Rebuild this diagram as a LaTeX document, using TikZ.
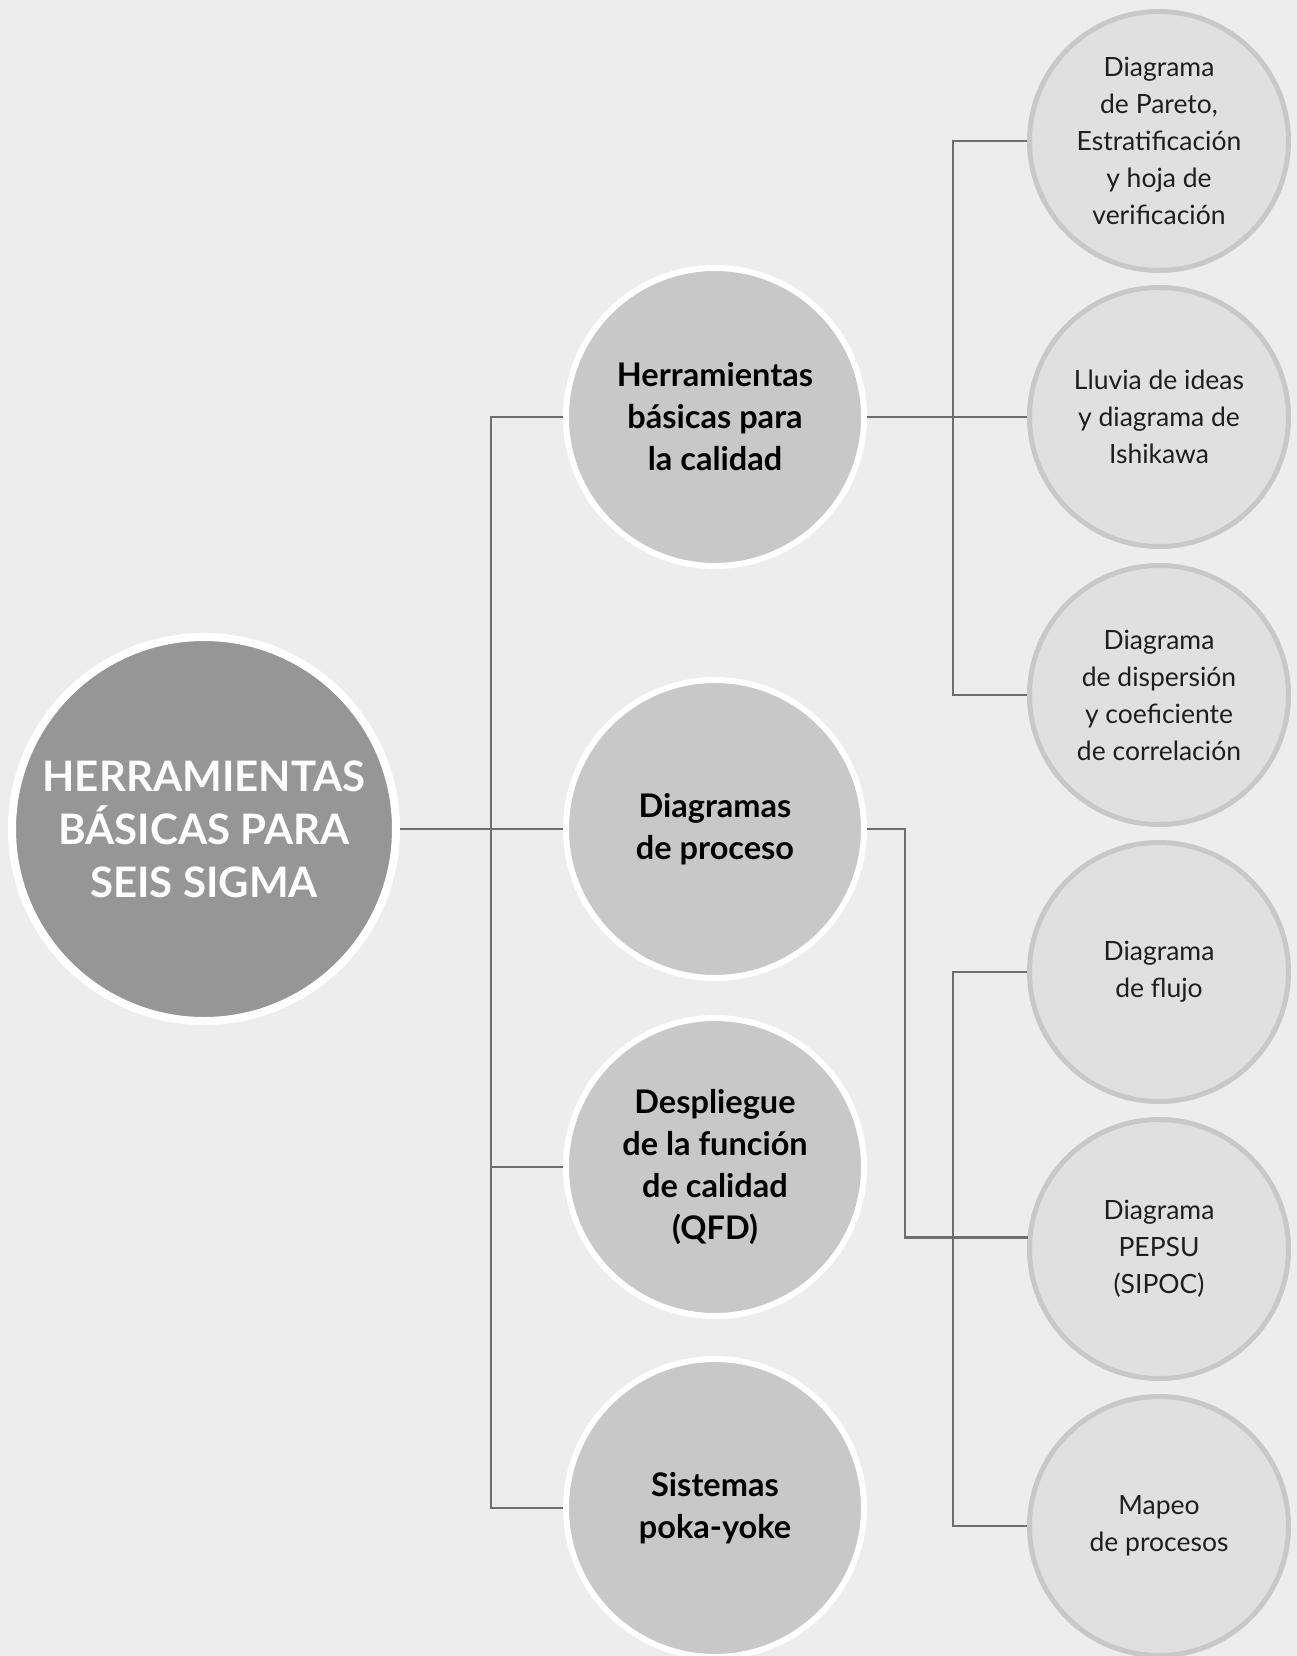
\documentclass[tikz,border=0pt]{standalone}
\usepackage{fontspec}
\setmainfont{Lato}
\definecolor{bgc}{HTML}{EDEDED}
\definecolor{mainc}{HTML}{969696}
\definecolor{midc}{HTML}{C8C8C8}
\definecolor{leafc}{HTML}{E0E0E0}
\definecolor{leafb}{HTML}{C8C8C8}
\definecolor{linec}{HTML}{6E6E6E}
\definecolor{txtc}{HTML}{1E1E1E}
\begin{document}
\begin{tikzpicture}[x=1pt,y=-1pt,
  rootbox/.style={circle,fill=mainc,draw=white,line width=8pt,minimum size=384pt,inner sep=0pt,align=center,text=white,font=\fontsize{42}{53}\selectfont\bfseries},
  midbox/.style={circle,fill=midc,draw=white,line width=6pt,minimum size=298pt,inner sep=0pt,align=center,text=black,font=\fontsize{32.5}{42}\selectfont\bfseries},
  leafbox/.style={circle,fill=leafc,draw=leafb,line width=5pt,minimum size=259pt,inner sep=0pt,align=center,text=txtc,font=\fontsize{26.5}{37}\selectfont},
  conn/.style={draw=linec,line width=2.8pt}]
\fill[bgc] (0,0) rectangle (1297,1656);
\useasboundingbox (0,0) rectangle (1297,1656);
\coordinate (tA) at (491,0);
\coordinate (tB) at (953,0);
\coordinate (tC) at (905,0);
% nodes
\node[rootbox] (root) at (204,829) {HERRAMIENTAS\\BÁSICAS PARA\\SEIS SIGMA};
\node[midbox] (m1) at (715,417) {Herramientas\\básicas para\\la calidad};
\node[midbox] (m2) at (715,829) {Diagramas\\de proceso};
\node[midbox] (m3) at (715,1167) {Despliegue\\de la función\\de calidad\\(QFD)};
\node[midbox] (m4) at (715,1508) {Sistemas\\poka-yoke};
\node[leafbox] (r1) at (1159,141) {Diagrama\\de Pareto,\\Estratificación\\y hoja de\\verificación};
\node[leafbox] (r2) at (1159,417) {Lluvia de ideas\\y diagrama de\\Ishikawa};
\node[leafbox] (r3) at (1159,695) {Diagrama\\de dispersión\\y coeficiente\\de correlación};
\node[leafbox] (r4) at (1159,972) {Diagrama\\de flujo};
\node[leafbox] (r5) at (1159,1249) {Diagrama\\PEPSU\\(SIPOC)};
\node[leafbox] (r6) at (1159,1526) {Mapeo\\de procesos};
% connectors
\draw[conn] (root) -- (m2);
\draw[conn] (m1.west) -- (m1.west -| tA) -- (m4.west -| tA) -- (m4.west);
\draw[conn] (m3.west -| tA) -- (m3.west);
\draw[conn] (m1) -- (r2);
\draw[conn] (r1.west) -- (r1.west -| tB) -- (r3.west -| tB) -- (r3.west);
\draw[conn] (m2.east) -| (tC |- r5.175) -- (r5.175);
\draw[conn] (r4.west) -- (r4.west -| tB) -- (r6.west -| tB) -- (r6.west);
\end{tikzpicture}
\end{document}
